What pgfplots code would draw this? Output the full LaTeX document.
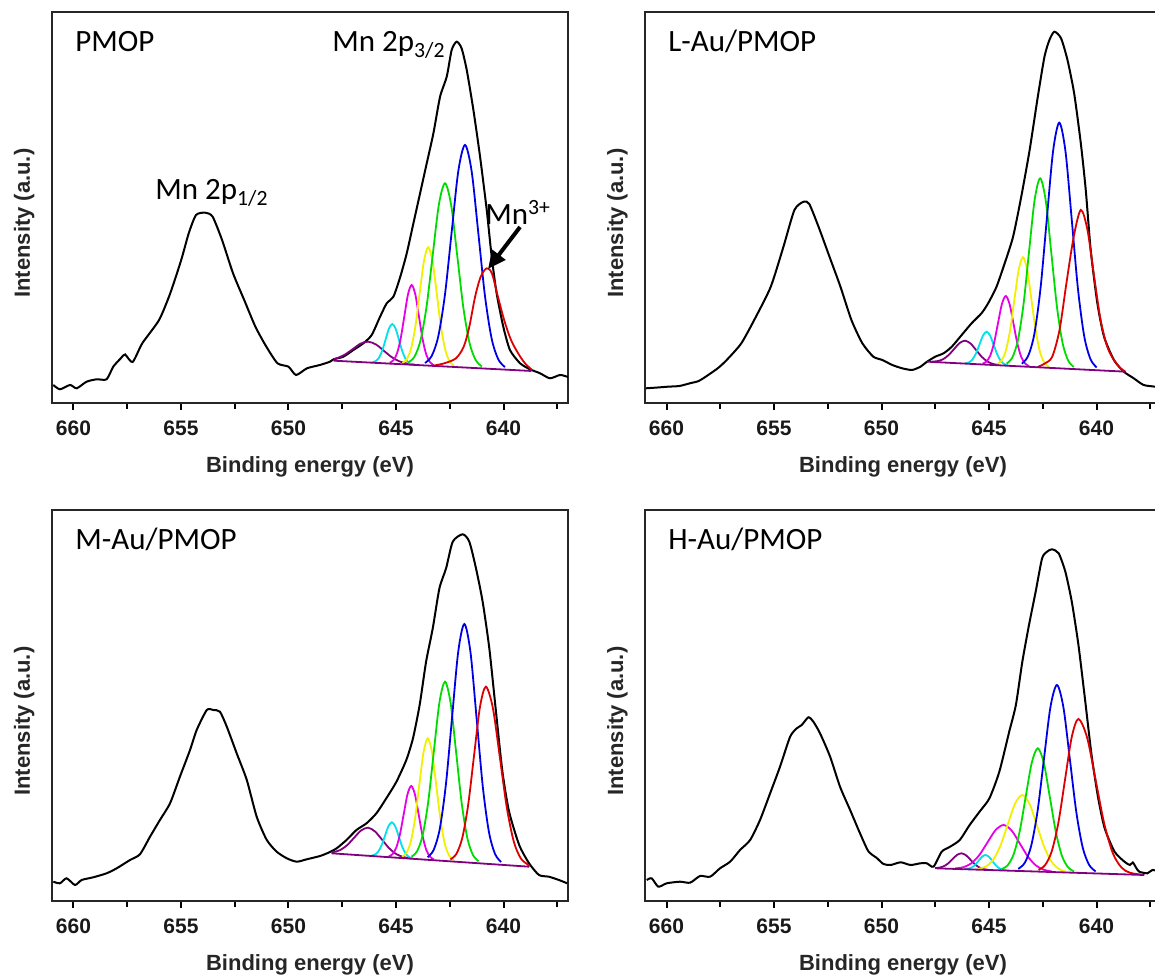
\documentclass[border=0pt]{standalone}
\usepackage{fontspec}
\usepackage{pgfplots}
\pgfplotsset{compat=1.18}
\usetikzlibrary{arrows.meta}
\newfontfamily\arialf{Liberation Sans}
\newfontfamily\calf{Carlito}
\definecolor{cPur}{RGB}{128,0,128}
\definecolor{cCya}{RGB}{0,225,235}
\definecolor{cMag}{RGB}{230,0,230}
\definecolor{cYel}{RGB}{240,240,0}
\definecolor{cGre}{RGB}{0,220,0}
\definecolor{cBlu}{RGB}{0,0,230}
\definecolor{cRed}{RGB}{220,0,0}
\pgfplotsset{
 panel/.style={
  scale only axis, width=258pt, height=195.5pt, anchor=south west,
  xmin=637, xmax=661, x dir=reverse, ymin=0, ymax=391,
  xtick={640,645,650,655,660}, minor xtick={637.5,642.5,647.5,652.5,657.5},
  ytick=\empty,
  tick align=outside, xtick pos=bottom,
  major tick length=3.5pt, minor tick length=3pt,
  every tick/.style={black, line width=1pt},
  axis line style={line width=1pt, black!85},
  xticklabel style={font=\arialf\bfseries\fontsize{10.5}{12}\selectfont, text=black!90, yshift=-2pt},
  /pgf/number format/assume math mode=true,
  xlabel={Binding energy (eV)}, ylabel={Intensity (a.u.)},
  every axis x label/.style={at={(axis description cs:0.5,0)}, anchor=base, yshift=-35pt, font=\arialf\bfseries\fontsize{11}{13}\selectfont, text=black!85},
  every axis y label/.style={at={(axis description cs:0,0.46)}, rotate=90, anchor=base, yshift=11pt, font=\arialf\bfseries\fontsize{11}{13}\selectfont, text=black!85},
 },
 dat/.style={black, line width=1pt, smooth, tension=0.4, no markers},
 comp/.style={line width=0.9pt, smooth, no markers},
}
\tikzset{
 ttl/.style={anchor=base west, inner sep=0pt, font=\calf\fontsize{15.5}{18}\selectfont, xshift=11.5pt, yshift=-20pt},
 ann/.style={anchor=base west, inner sep=0pt, font=\calf\fontsize{15.5}{18}\selectfont},
}
\begin{document}
\begin{tikzpicture}
% ---------------- Panel 1: PMOP
\begin{axis}[panel, at={(26pt,287pt)}]
\addplot[dat] coordinates {(660.94,18)(660.63,13.7)(660.16,18)(659.85,14.7)(659.39,21.3)(658.92,23.7)(658.46,23.7)(658.15,36.3)(657.8,44.7)(657.6,48.5)(657.25,41)(656.8,59.7)(656.02,83)(655.5,109.7)(654.99,143)(654.64,169.7)(654.3,188)(653.87,190.3)(653.53,186.3)(653.09,163)(652.58,129.7)(652.06,103)(651.54,76.3)(651.03,56.3)(650.51,39.7)(650.0,36.3)(649.65,28)(649.14,34.7)(648.54,38)(648.07,41.3)(647.9,43.7)(647.45,46.3)(646.98,53)(646.52,59.7)(646.13,68)(645.74,86.3)(645.43,99.7)(645.12,106.3)(644.8,126.3)(644.5,149.7)(644.19,179.7)(643.88,209.7)(643.57,239.7)(643.26,269.7)(642.95,306.3)(642.64,326.3)(642.41,353)(642.18,361.3)(641.95,354.7)(641.71,333)(641.4,293)(641.09,246.3)(640.78,193)(640.55,146.3)(640.32,109.7)(640.01,76.3)(639.7,53)(639.23,39.7)(638.77,33.7)(638.3,29.7)(637.84,24.7)(637.37,28)(637.0,26)};
\addplot[comp, cPur] coordinates {(644.13,38.3)(644.49,39.4)(644.85,41.7)(645.21,46.0)(645.57,52.3)(645.93,58.5)(646.29,61.3)(646.65,59.3)(647.01,53.9)(647.37,48.5)(647.73,44.9)(647.9,44.0)};
\addplot[comp, cCya] coordinates {(644.24,38.6)(644.395,40.1)(644.55,43.9)(644.705,51.6)(644.86,63.0)(645.015,74.2)(645.17,79.0)(645.325,74.5)(645.48,63.7)(645.635,52.7)(645.79,45.3)(645.945,41.9)(646.1,40.7)};
\addplot[comp, cMag] coordinates {(643.25,38.0)(643.42,40.8)(643.59,48.3)(643.76,63.6)(643.93,86.2)(644.10,108.4)(644.27,118.0)(644.44,108.8)(644.61,87.0)(644.78,64.7)(644.95,49.8)(645.12,42.7)(645.29,40.3)};
\addplot[comp, cYel] coordinates {(642.3,37.3)(642.5,41.5)(642.7,52.5)(642.9,75.1)(643.1,108.7)(643.3,141.6)(643.5,155.7)(643.7,142.0)(643.9,109.6)(644.1,76.5)(644.3,54.3)(644.5,43.7)(644.7,40.0)};
\addplot[comp, cGre] coordinates {(641.01,36.6)(641.295,43.0)(641.58,60.0)(641.865,95.0)(642.15,147.0)(642.435,197.9)(642.72,219.7)(643.005,198.5)(643.29,148.3)(643.575,97.0)(643.86,62.6)(644.145,46.1)(644.43,40.5)};
\addplot[comp, cBlu] coordinates {(639.93,35.9)(640.24,43.5)(640.55,64.2)(640.86,106.7)(641.17,169.7)(641.48,231.5)(641.79,258.0)(642.1,232.2)(642.41,171.1)(642.72,108.8)(643.03,67.0)(643.34,47.0)(643.65,40.0)};
\addplot[comp, cRed] coordinates {(643.33,37.0)(642.75,39.7)(642.21,44.7)(641.85,56.3)(641.59,76.3)(641.32,106.3)(641.06,126.3)(640.78,134.7)(640.54,129.7)(640.30,109.7)(639.97,83)(639.65,63)(639.32,49.7)(639.0,39.7)(638.67,33)};
\addplot[comp, cPur] coordinates {(647.9,42.3)(638.7,32.0)};
\node[ttl] at (axis description cs:0,1) {PMOP};
\node[ann] at (axis cs:647.98,351) {Mn 2p\textsubscript{3/2}};
\node[ann] at (axis cs:656.21,203) {Mn 2p\textsubscript{1/2}};
\node[ann] at (axis cs:640.86,178) {Mn\textsuperscript{3+}};
\draw[line width=2pt, -{Triangle[length=9pt,width=8pt]}] (axis cs:639.23,176) -- (axis cs:640.72,134);
\end{axis}
% ---------------- Panel 2: L-Au/PMOP
\begin{axis}[panel, at={(322.5pt,287pt)}]
\addplot[dat] coordinates {(660.95,14.7)(660.4,15.5)(659.93,16.3)(659.4,17)(658.91,19.7)(658.5,22)(658.06,28)(657.6,35)(657.2,43)(656.52,59.7)(655.84,86.3)(655.15,116.3)(654.56,156.3)(654.05,193)(653.62,201.3)(653.36,199)(652.93,176.3)(652.42,146.3)(651.91,116.3)(651.4,83)(650.89,59.7)(650.38,46.3)(649.96,43)(649.5,38)(649.04,34.7)(648.58,33)(648.19,36.3)(647.88,41.3)(647.5,46.3)(647.11,49.7)(646.73,56.3)(646.27,68)(645.81,79.7)(645.35,89.7)(645.04,99.7)(644.65,116.3)(644.27,139.7)(643.88,166.3)(643.5,206.3)(643.11,253)(642.73,306.3)(642.42,346.3)(642.19,363)(641.96,371.3)(641.65,364.7)(641.35,343)(641.04,309.7)(640.73,259.7)(640.5,213)(640.27,153)(639.96,99.7)(639.65,66.3)(639.19,43)(638.73,31.3)(638.27,24.7)(637.81,18)(637.27,16.3)(637.0,15)};
\addplot[comp, cPur] coordinates {(644.55,37.9)(644.81,39.0)(645.07,41.4)(645.33,46.0)(645.59,52.7)(645.85,59.3)(646.11,62.3)(646.37,59.9)(646.63,53.8)(646.89,47.7)(647.15,43.6)(647.41,41.8)(647.67,41.3)};
\addplot[comp, cCya] coordinates {(644.12,37.6)(644.285,38.9)(644.45,42.0)(644.615,48.5)(644.78,58.0)(644.945,67.2)(645.11,71.3)(645.275,67.6)(645.44,58.7)(645.605,49.6)(645.77,43.5)(645.935,40.6)(646.1,39.7)};
\addplot[comp, cMag] coordinates {(643.14,36.9)(643.32,39.4)(643.5,46.0)(643.68,59.4)(643.86,79.2)(644.04,98.6)(644.22,107.0)(644.40,99.0)(644.58,80.0)(644.76,60.5)(644.94,47.5)(645.12,41.4)(645.30,39.3)};
\addplot[comp, cYel] coordinates {(642.22,36.4)(642.42,40.2)(642.62,50.4)(642.82,71.3)(643.02,102.3)(643.22,132.6)(643.42,145.7)(643.62,133.1)(643.82,103.2)(644.02,72.6)(644.22,52.1)(644.42,42.3)(644.62,39.0)};
\addplot[comp, cGre] coordinates {(641.06,36.0)(641.32,42.5)(641.58,60.1)(641.84,96.2)(642.1,149.7)(642.36,202.2)(642.62,224.7)(642.88,202.8)(643.14,150.9)(643.4,97.8)(643.66,62.3)(643.92,45.3)(644.18,39.4)};
\addplot[comp, cBlu] coordinates {(639.99,35.5)(640.28,43.8)(640.57,66.6)(640.86,113.5)(641.15,183.0)(641.44,251.1)(641.73,280.3)(642.02,251.8)(642.31,184.3)(642.6,115.4)(642.89,69.1)(643.18,47.0)(643.47,39.3)};
\addplot[comp, cRed] coordinates {(642.75,35.8)(642.39,39.7)(642.06,46.3)(641.72,73)(641.40,119.7)(641.06,166.3)(640.73,193)(640.42,173)(640.11,126.3)(639.81,83)(639.5,56.3)(639.19,43)(638.88,34.7)(638.65,31.3)};
\addplot[comp, cPur] coordinates {(647.88,41.3)(638.65,31.3)};
\node[ttl] at (axis description cs:0,1) {L-Au/PMOP};
\end{axis}
% ---------------- Panel 3: M-Au/PMOP
\begin{axis}[panel, at={(26pt,38pt)}]
\addplot[dat] coordinates {(660.94,19.3)(660.63,17.7)(660.32,22.7)(659.93,16)(659.62,21)(659.08,23.7)(658.46,27.7)(657.99,32.7)(657.37,41)(656.91,46.7)(656.44,64.3)(655.98,81)(655.51,97.7)(655.05,124.3)(654.58,151)(654.27,171)(653.8,191)(653.5,191)(653.19,189.3)(652.87,174.3)(652.41,147.7)(651.94,121)(651.48,84.3)(651.01,61)(650.55,49.3)(650.08,42.7)(649.62,39.3)(649.15,41.7)(648.53,45)(648.07,49)(647.76,52.7)(647.3,61)(646.84,71)(646.37,77.7)(645.91,87.7)(645.45,102.7)(644.98,119.3)(644.52,141)(644.21,162.7)(643.9,196)(643.6,239.3)(643.29,272.7)(642.98,312.7)(642.67,332.7)(642.36,359.3)(641.9,366.7)(641.59,359.3)(641.28,332.7)(640.97,299.3)(640.66,252.7)(640.35,189.3)(640.05,129.3)(639.74,89.3)(639.27,56)(638.81,37.7)(638.35,26)(637.89,24.3)(637.42,21)(637.04,17.7)};
\addplot[comp, cPur] coordinates {(644.35,42.7)(644.675,44.1)(645.0,47.1)(645.325,52.9)(645.65,61.3)(645.975,69.5)(646.3,73.3)(646.625,70.5)(646.95,63.2)(647.275,55.8)(647.6,50.9)(647.925,48.8)(648.0,48.6)};
\addplot[comp, cCya] coordinates {(644.23,42.6)(644.39,44.0)(644.55,47.4)(644.71,54.3)(644.87,64.4)(645.03,74.4)(645.19,78.7)(645.35,74.8)(645.51,65.4)(645.67,55.7)(645.83,49.3)(645.99,46.3)(646.15,45.4)};
\addplot[comp, cMag] coordinates {(643.24,41.6)(643.415,44.2)(643.59,51.1)(643.765,65.1)(643.94,85.9)(644.115,106.2)(644.29,115.0)(644.465,106.7)(644.64,86.9)(644.815,66.7)(644.99,53.2)(645.165,46.8)(645.34,44.6)};
\addplot[comp, cYel] coordinates {(642.32,40.8)(642.52,45.1)(642.72,56.4)(642.92,79.8)(643.12,114.3)(643.32,148.1)(643.52,162.7)(643.72,148.7)(643.92,115.5)(644.12,81.5)(644.32,58.8)(644.52,48.0)(644.72,44.3)};
\addplot[comp, cGre] coordinates {(641.16,39.7)(641.42,46.0)(641.68,62.7)(641.94,97.1)(642.2,148.0)(642.46,197.9)(642.72,219.3)(642.98,198.6)(643.24,149.5)(643.5,99.4)(643.76,65.8)(644.02,49.8)(644.28,44.3)};
\addplot[comp, cBlu] coordinates {(640.11,38.9)(640.395,47.1)(640.68,69.3)(640.965,114.8)(641.25,182.4)(641.535,248.6)(641.82,277.0)(642.105,249.4)(642.39,184.1)(642.675,117.3)(642.96,72.6)(643.245,51.2)(643.53,43.8)};
\addplot[comp, cRed] coordinates {(642.47,41.6)(642.195,47.0)(641.92,62.8)(641.645,95.9)(641.37,145.4)(641.095,193.9)(640.82,214.3)(640.495,193.0)(640.17,143.7)(639.845,93.3)(639.52,59.3)(639.195,42.6)(638.87,36.4)(638.81,34.3)};
\addplot[comp, cPur] coordinates {(648.0,47.7)(638.81,34.3)};
\node[ttl] at (axis description cs:0,1) {M-Au/PMOP};
\end{axis}
% ---------------- Panel 4: H-Au/PMOP
\begin{axis}[panel, at={(322.5pt,38pt)}]
\addplot[dat] coordinates {(660.92,21)(660.69,22.7)(660.38,14.3)(659.99,17.7)(659.37,19.3)(658.9,18.3)(658.44,25)(657.97,24.3)(657.51,32.7)(657.04,39.3)(656.58,51)(656.11,61)(655.65,81)(655.18,107.7)(654.72,134.3)(654.25,164.3)(653.94,172.7)(653.71,176)(653.4,183.7)(653.17,179.3)(652.86,167.7)(652.39,144.3)(651.93,114.3)(651.46,91)(651.0,67.7)(650.61,49.7)(650.22,43)(649.91,37)(649.57,36)(649.11,38.7)(648.65,36)(648.19,37.7)(647.89,37.7)(647.58,34.3)(647.2,49.3)(646.81,54.3)(646.36,61)(645.9,76)(645.44,89.3)(644.98,102.7)(644.52,129.3)(644.06,169.3)(643.75,196)(643.45,239.3)(643.14,276)(642.83,309.3)(642.53,342.7)(642.3,349.3)(642.07,351.7)(641.76,347.7)(641.45,329.3)(641.15,299.3)(640.84,256)(640.54,202.7)(640.23,146)(639.92,102.7)(639.62,72.7)(639.16,49.3)(638.7,39.3)(638.45,36)(638.31,38.5)(638.15,33)(638.01,29.3)(637.63,27.7)(637.4,31)(637.0,29)};
\addplot[comp, cPur] coordinates {(645.02,31.2)(645.23,31.8)(645.44,33.4)(645.65,36.6)(645.86,41.2)(646.07,45.7)(646.28,47.7)(646.49,46.0)(646.70,41.8)(646.91,37.4)(647.12,34.6)(647.33,33.3)(647.5,32.9)};
\addplot[comp, cCya] coordinates {(644.2,30.6)(644.36,31.2)(644.52,32.7)(644.68,35.6)(644.84,39.9)(645.0,44.1)(645.16,46.0)(645.32,44.4)(645.48,40.4)(645.64,36.3)(645.8,33.5)(645.96,32.3)(646.12,31.9)};
\addplot[comp, cMag] coordinates {(642.07,29.5)(642.445,31.2)(642.82,35.6)(643.195,44.5)(643.57,57.6)(643.945,70.4)(644.32,76.0)(644.695,70.9)(645.07,58.6)(645.445,46.1)(645.82,37.7)(646.195,33.8)(646.57,32.6)};
\addplot[comp, cYel] coordinates {(641.41,29.3)(641.75,32.1)(642.09,39.3)(642.43,53.9)(642.77,75.6)(643.11,96.8)(643.45,106.0)(643.79,97.3)(644.13,76.5)(644.47,55.3)(644.81,41.1)(645.15,34.4)(645.49,32.2)};
\addplot[comp, cGre] coordinates {(641.05,29.6)(641.33,33.9)(641.61,45.3)(641.89,68.9)(642.17,103.8)(642.45,138.0)(642.73,152.7)(643.01,138.4)(643.29,104.6)(643.57,70.0)(643.85,46.9)(644.13,35.8)(644.41,31.9)};
\addplot[comp, cBlu] coordinates {(640.04,29.6)(640.34,36.0)(640.64,53.3)(640.94,89.0)(641.24,141.9)(641.54,193.8)(641.84,216.0)(642.14,194.2)(642.44,142.8)(642.74,90.2)(643.04,55.0)(643.34,38.1)(643.64,32.1)};
\addplot[comp, cRed] coordinates {(642.7,31.1)(642.39,35.9)(642.08,49.8)(641.77,78.7)(641.46,121.9)(641.15,164.1)(640.84,182.0)(640.44,163.6)(640.04,120.9)(639.64,77.3)(639.24,47.8)(638.84,33.5)(638.44,28.2)(637.78,26)};
\addplot[comp, cPur] coordinates {(647.5,32.7)(637.78,26)};
\node[ttl] at (axis description cs:0,1) {H-Au/PMOP};
\end{axis}
\pgfresetboundingbox
\useasboundingbox (0,0) rectangle (577.5pt,488.5pt);
\end{tikzpicture}
\end{document}
